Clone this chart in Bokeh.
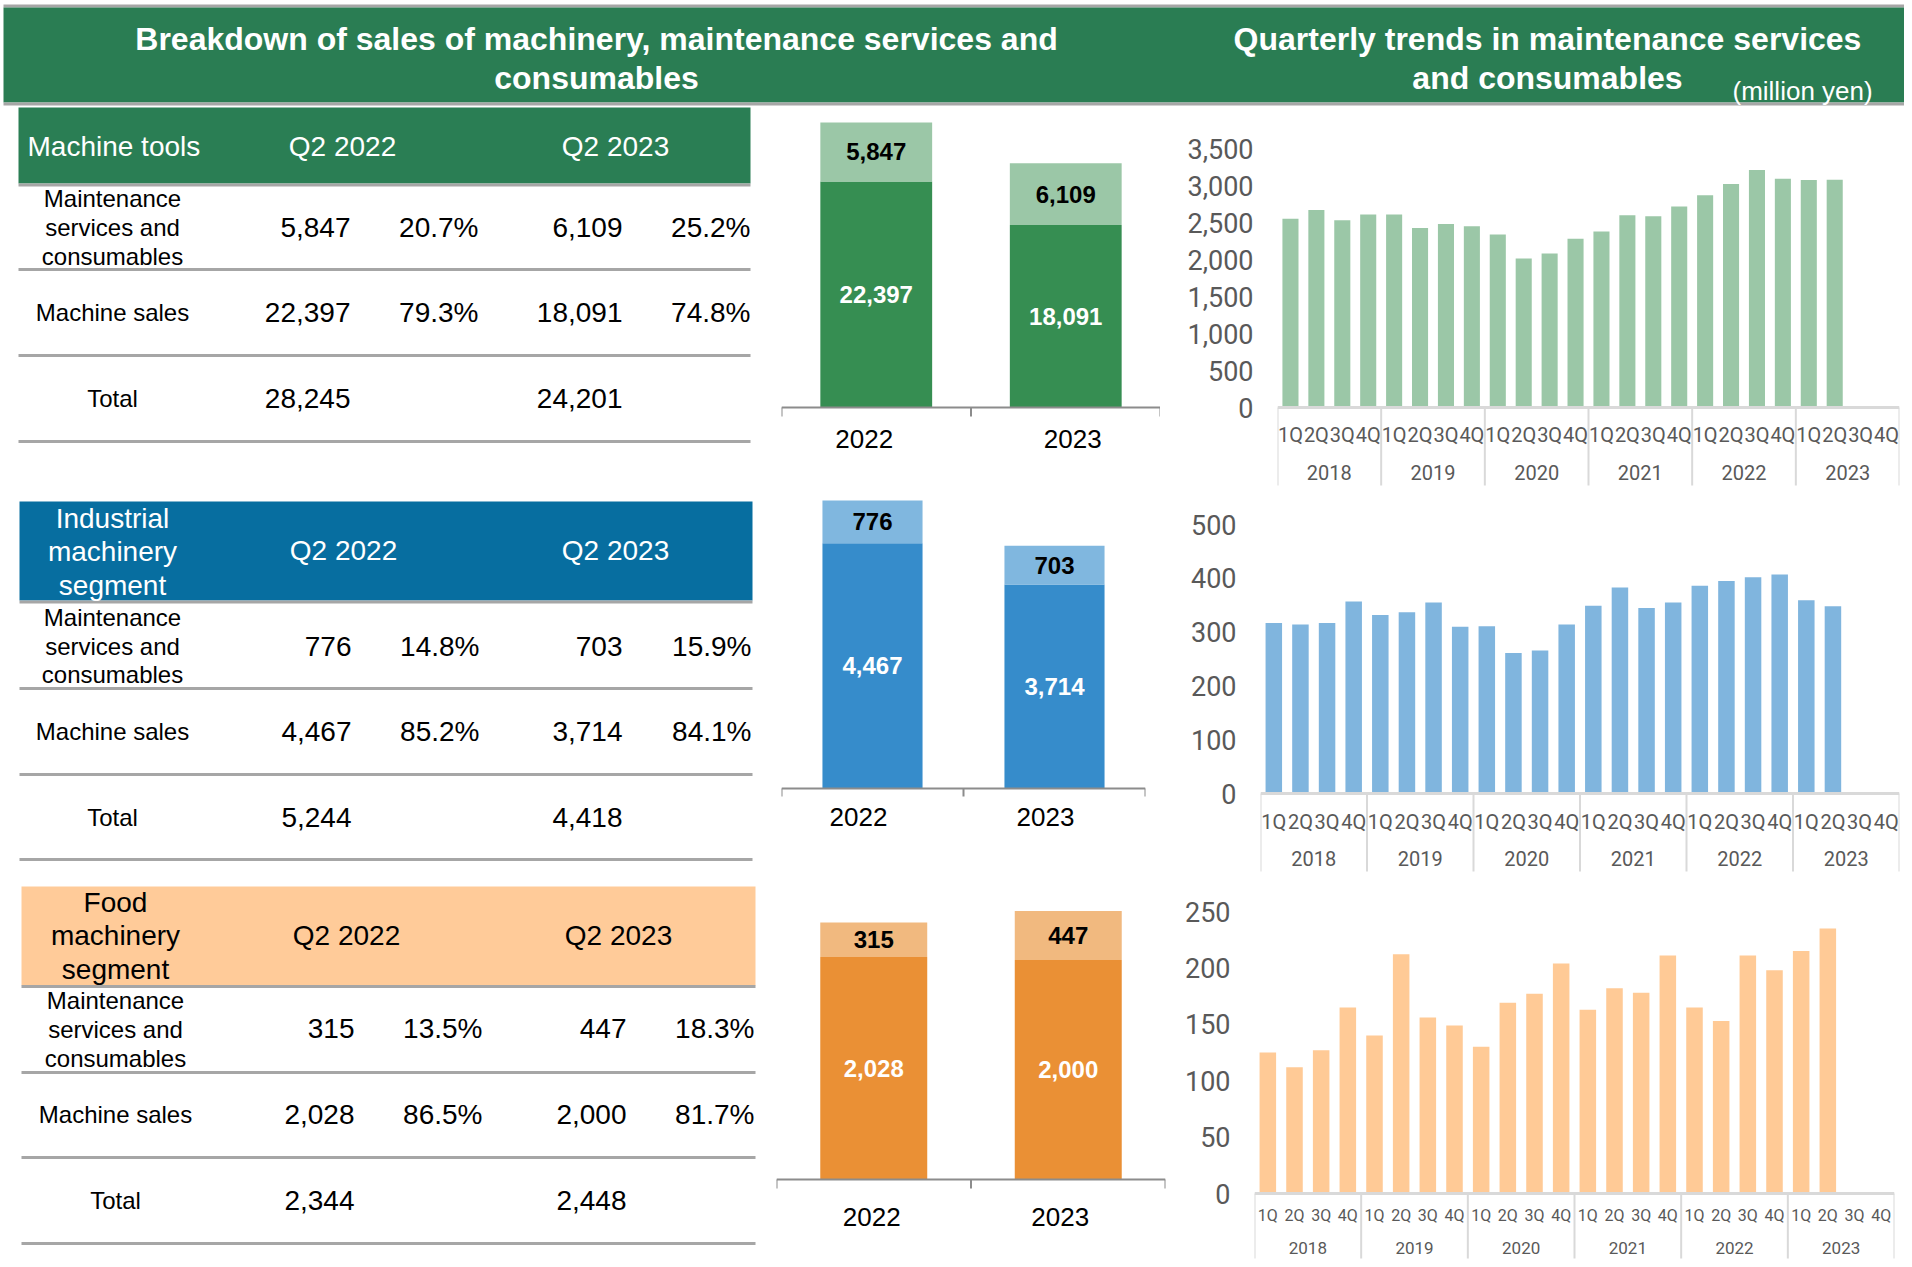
from bokeh.plotting import figure
from bokeh.models import Range1d, FactorRange, FixedTicker, NumeralTickFormatter, Span, ColumnDataSource
from bokeh.layouts import column, row
from bokeh.core.properties import value
from bokeh.embed import file_html
from bokeh.resources import INLINE

# ---------------- data ----------------
years = ["2018", "2019", "2020", "2021", "2022", "2023"]
quarters = ["1Q", "2Q", "3Q", "4Q"]

tools_quarterly = [2552, 2670, 2529, 2607, 2607, 2425, 2480, 2448, 2339, 2013, 2081, 2280,
                   2380, 2597, 2584, 2715, 2869, 3019, 3209, 3092, 3073, 3078]
industrial_quarterly = [317, 314, 317, 357, 332, 337, 355, 310, 311, 261, 266, 314,
                        349, 383, 345, 355, 386, 395, 402, 407, 359, 348]
food_quarterly = [125, 112, 127, 165, 140, 212, 156, 149, 130, 169, 177, 204,
                  163, 182, 178, 211, 165, 153, 211, 198, 215, 235]

tools_ticks = [0, 500, 1000, 1500, 2000, 2500, 3000, 3500]
industrial_ticks = [0, 100, 200, 300, 400, 500]
food_ticks = [0, 50, 100, 150, 200, 250]

periods = ["2022", "2023"]
col_heads = ["Q2 2022", "Q2 2023"]
row_maint = ["Maintenance", "services and", "consumables"]
row_machine = "Machine sales"
row_total = "Total"

tools_name = ["Machine tools"]
tools_maint = [5847, 6109]
tools_machine = [22397, 18091]
tools_total = [28245, 24201]
tools_maint_pct = [20.7, 25.2]
tools_machine_pct = [79.3, 74.8]

ind_name = ["Industrial", "machinery", "segment"]
ind_maint = [776, 703]
ind_machine = [4467, 3714]
ind_total = [5244, 4418]
ind_maint_pct = [14.8, 15.9]
ind_machine_pct = [85.2, 84.1]

food_name = ["Food", "machinery", "segment"]
food_maint = [315, 447]
food_machine = [2028, 2000]
food_total = [2344, 2448]
food_maint_pct = [13.5, 18.3]
food_machine_pct = [86.5, 81.7]

title_left = ["Breakdown of sales of machinery, maintenance services and", "consumables"]
title_right = ["Quarterly trends in maintenance services", "and consumables"]
unit_note = "(million yen)"

# ---------------- styles ----------------
ARIAL = "Liberation Sans"
QFONT = "Roboto"
GRID_GREY = "#A6A6A6"
W_TOTAL = 1904


def base_fig(width, height, xr, yr, **kw):
    p = figure(width=width, height=height, x_range=xr, y_range=yr,
               output_backend="svg", toolbar_location=None,
               min_border_left=kw.pop("left", 0), min_border_right=kw.pop("right", 0),
               min_border_top=0, min_border_bottom=0,
               x_axis_location=None, y_axis_location=kw.pop("yaxis", None), **kw)
    p.grid.visible = False
    p.outline_line_color = None
    p.background_fill_color = "white"
    p.border_fill_color = "white"
    return p


def title_fig():
    p = base_fig(W_TOTAL, 106, Range1d(0, W_TOTAL), Range1d(106, 0))
    p.quad(left=[3], right=[W_TOTAL], top=[4], bottom=[7], fill_color=GRID_GREY, line_color=None)
    p.quad(left=[3], right=[W_TOTAL], top=[7], bottom=[102], fill_color="#2A7D53", line_color=None)
    p.quad(left=[3], right=[W_TOTAL], top=[102], bottom=[105], fill_color=GRID_GREY, line_color=None)
    p.text(x=[596, 596], y=[38, 77], text=title_left, text_font=value(ARIAL), text_font_style="bold",
           text_font_size="32px", text_color="white", text_align="center", text_baseline="middle")
    p.text(x=[1547, 1547], y=[38, 77], text=title_right, text_font=value(ARIAL), text_font_style="bold",
           text_font_size="32px", text_color="white", text_align="center", text_baseline="middle")
    p.text(x=[1732], y=[90], text=[unit_note], text_font=value(ARIAL), text_font_size="26px",
           text_color="white", text_align="left", text_baseline="middle")
    return p


def sep_fig():
    p = base_fig(W_TOTAL, 4, Range1d(0, 1), Range1d(0, 1))
    p.quad(left=[0], right=[1], top=[1], bottom=[0], fill_color="#B4B4B4", line_color=None)
    p.background_fill_color = "#B4B4B4"
    p.border_fill_color = "#B4B4B4"
    return p


def table_fig(name, name_align, name_x, name_ys, head_color, head_text_color,
              fig_top, fig_bot, head_box, line_ys, label_x, maint_ys, row_ys, val_xs,
              head_y, head_xs, maint, machine, total, mpct, spct):
    p = base_fig(770, fig_bot - fig_top, Range1d(0, 770), Range1d(fig_bot, fig_top))
    l, r, t, b = head_box
    p.quad(left=[l], right=[r], top=[t], bottom=[b], fill_color=head_color, line_color=None)
    p.segment(x0=[l] * len(line_ys), x1=[r] * len(line_ys), y0=line_ys, y1=line_ys,
              line_color=GRID_GREY, line_width=3)
    p.text(x=[name_x] * len(name), y=name_ys, text=name, text_font=value(ARIAL),
           text_font_size="28px", text_color=head_text_color, text_align=name_align,
           text_baseline="middle")
    p.text(x=head_xs, y=[head_y] * 2, text=col_heads, text_font=value(ARIAL),
           text_font_size="28px", text_color=head_text_color, text_align="center",
           text_baseline="middle")
    p.text(x=[label_x] * 5, y=list(maint_ys) + [row_ys[1], row_ys[2]],
           text=row_maint + [row_machine, row_total], text_font=value(ARIAL),
           text_font_size="24px", text_color="black", text_align="center", text_baseline="middle")
    vx, vy, vt = [], [], []
    for k in range(2):
        vx += [val_xs[2 * k], val_xs[2 * k + 1], val_xs[2 * k], val_xs[2 * k + 1], val_xs[2 * k]]
        vy += [row_ys[0], row_ys[0], row_ys[1], row_ys[1], row_ys[2]]
        vt += [f"{maint[k]:,}", f"{mpct[k]:.1f}%", f"{machine[k]:,}", f"{spct[k]:.1f}%", f"{total[k]:,}"]
    p.text(x=vx, y=vy, text=vt, text_font=value(ARIAL), text_font_size="28px",
           text_color="black", text_align="right", text_baseline="middle")
    return p


def stacked_fig(maint, machine, dark, light, width, left, right, fig_top, fig_bot, base, ppu,
                bar_w, lab_off, tick_len, lab_shift_px):
    yr = Range1d(-(fig_bot - base) / ppu, (base - fig_top) / ppu)
    xr = FactorRange(*periods, range_padding=0, factor_padding=0)
    p = base_fig(width, fig_bot - fig_top, xr, yr, left=left, right=right)
    cat_px = (width - left - right) / len(periods)
    tot = [a + b for a, b in zip(maint, machine)]
    src = ColumnDataSource(dict(period=periods, maint=maint, machine=machine, total=tot,
                                mid_dark=[m / 2 for m in machine],
                                mid_light=[m + s / 2 for m, s in zip(machine, maint)],
                                lab_dark=[f"{m:,}" for m in machine],
                                lab_light=[f"{s:,}" for s in maint]))
    p.vbar(x="period", bottom=0, top="machine", width=bar_w, source=src,
           fill_color=dark, line_color=None)
    p.vbar(x="period", bottom="machine", top="total", width=bar_w, source=src,
           fill_color=light, line_color=None)
    p.text(x="period", y="mid_dark", text="lab_dark", source=src, text_font=value(ARIAL),
           text_font_style="bold", text_font_size="24px", text_color="white",
           text_align="center", text_baseline="middle")
    p.text(x="period", y="mid_light", text="lab_light", source=src, text_font=value(ARIAL),
           text_font_style="bold", text_font_size="24px", text_color="black",
           text_align="center", text_baseline="middle")
    edges = [(c, -0.5) for c in periods] + [(periods[-1], 0.5)]
    p.segment(x0=[edges[0]], x1=[edges[-1]], y0=[0], y1=[0], line_color="#8C8C8C", line_width=2)
    p.segment(x0=edges, x1=edges, y0=[0] * len(edges), y1=[-tick_len / ppu] * len(edges),
              line_color="#8C8C8C", line_width=2)
    lab_x = [(c, s / cat_px) for c, s in zip(periods, lab_shift_px)]
    p.text(x=lab_x, y=[-lab_off / ppu] * len(periods), text=periods, text_font=value(ARIAL),
           text_font_size="26px", text_color="black", text_align="center", text_baseline="middle")
    return p


def quarterly_fig(vals, color, ticks, width, left, right, fig_top, fig_bot, base, ppu,
                  q_off, y_off, sep_off, q_size, y_size):
    factors = [(y, q) for y in years for q in quarters]
    xr = FactorRange(*factors, group_padding=0, factor_padding=0, subgroup_padding=0, range_padding=0)
    yr = Range1d(-(fig_bot - base) / ppu, (base - fig_top) / ppu)
    p = base_fig(width, fig_bot - fig_top, xr, yr, left=left, right=right, yaxis="left")
    ax = p.yaxis[0]
    ax.ticker = FixedTicker(ticks=ticks, minor_ticks=[])
    ax.formatter = NumeralTickFormatter(format="0,0")
    ax.axis_line_color = None
    ax.major_tick_line_color = None
    ax.minor_tick_line_color = None
    ax.major_label_standoff = 18
    ax.major_label_text_font = QFONT
    ax.major_label_text_font_size = "27px"
    ax.major_label_text_color = "#595959"
    p.vbar(x=factors[:len(vals)], top=vals, bottom=0, width=0.62, fill_color=color, line_color=None)
    p.add_layout(Span(location=0, dimension="width", line_color="#D9D9D9", line_width=3))
    edges = [(y, "1Q", -0.5) for y in years] + [(years[-1], "4Q", 0.5)]
    p.segment(x0=edges, x1=edges, y0=[0] * len(edges), y1=[-sep_off / ppu] * len(edges),
              line_color="#D9D9D9", line_width=2)
    p.text(x=factors, y=[-q_off / ppu] * len(factors), text=[q for _, q in factors],
           text_font=value(QFONT), text_font_size=q_size, text_color="#595959",
           text_align="center", text_baseline="middle")
    p.text(x=years, y=[-y_off / ppu] * len(years), text=years, text_font=value(QFONT),
           text_font_size=y_size, text_color="#595959", text_align="center", text_baseline="middle")
    return p


# ---------------- section 1: machine tools ----------------
t1 = table_fig(tools_name, "left", 27, [146], "#2A7E54", "white", 106, 492,
               (18, 750, 107, 183), [184.5, 269, 355, 441], 112, [198, 227, 256],
               [227, 312, 398], [350, 478, 622, 750], 146, [342, 615],
               tools_maint, tools_machine, tools_total, tools_maint_pct, tools_machine_pct)
b1 = stacked_fig(tools_maint, tools_machine, "#368E52", "#9BC7A7", 390, 11, 0, 106, 492, 407,
                 285 / 28244, 0.59, 31, 9, [-12, 7])
q1 = quarterly_fig(tools_quarterly, "#9BC7A7", tools_ticks, 744, 117, 5, 106, 492, 407,
                   259 / 3500, 27, 65, 78, "20px", "20px")

# ---------------- section 2: industrial machinery ----------------
t2 = table_fig(ind_name, "center", 112, [518, 551, 585], "#076EA0", "white", 496, 881,
               (19, 752, 501, 600), [601.5, 688, 774, 859], 112, [617, 646, 674],
               [646, 731, 817], [351, 479, 622, 751], 550, [343, 615],
               ind_maint, ind_machine, ind_total, ind_maint_pct, ind_machine_pct)
b2 = stacked_fig(ind_maint, ind_machine, "#368CCB", "#80B7DF", 390, 11, 15, 496, 881, 788,
                 288 / 5243, 0.55, 28, 8, [-14, -9])
q2 = quarterly_fig(industrial_quarterly, "#80B5DE", industrial_ticks, 744, 100, 5, 496, 881, 793,
                   269 / 500, 28, 65, 78, "20px", "20px")

# ---------------- section 3: food machinery ----------------
t3 = table_fig(food_name, "center", 115, [902, 935, 969], "#FFCB99", "black", 885, 1262,
               (21, 755, 886, 985), [986, 1072, 1157, 1243], 115, [1000, 1029, 1058],
               [1028, 1114, 1200], [354, 482, 626, 754], 935, [346, 618],
               food_maint, food_machine, food_total, food_maint_pct, food_machine_pct)
b3 = stacked_fig(food_maint, food_machine, "#EA9035", "#F1B97F", 397, 6, 2, 885, 1262, 1179,
                 257 / 2343, 0.55, 37, 9, [-2, -8])
q3 = quarterly_fig(food_quarterly, "#FFCA96", food_ticks, 737, 87, 10, 885, 1262, 1193,
                   282 / 250, 22, 54, 65, "16px", "17px")

layout = column(title_fig(), row(t1, b1, q1), sep_fig(), row(t2, b2, q2), sep_fig(),
                row(t3, b3, q3), spacing=0)

open("out.html", "w").write(file_html(layout, INLINE))
